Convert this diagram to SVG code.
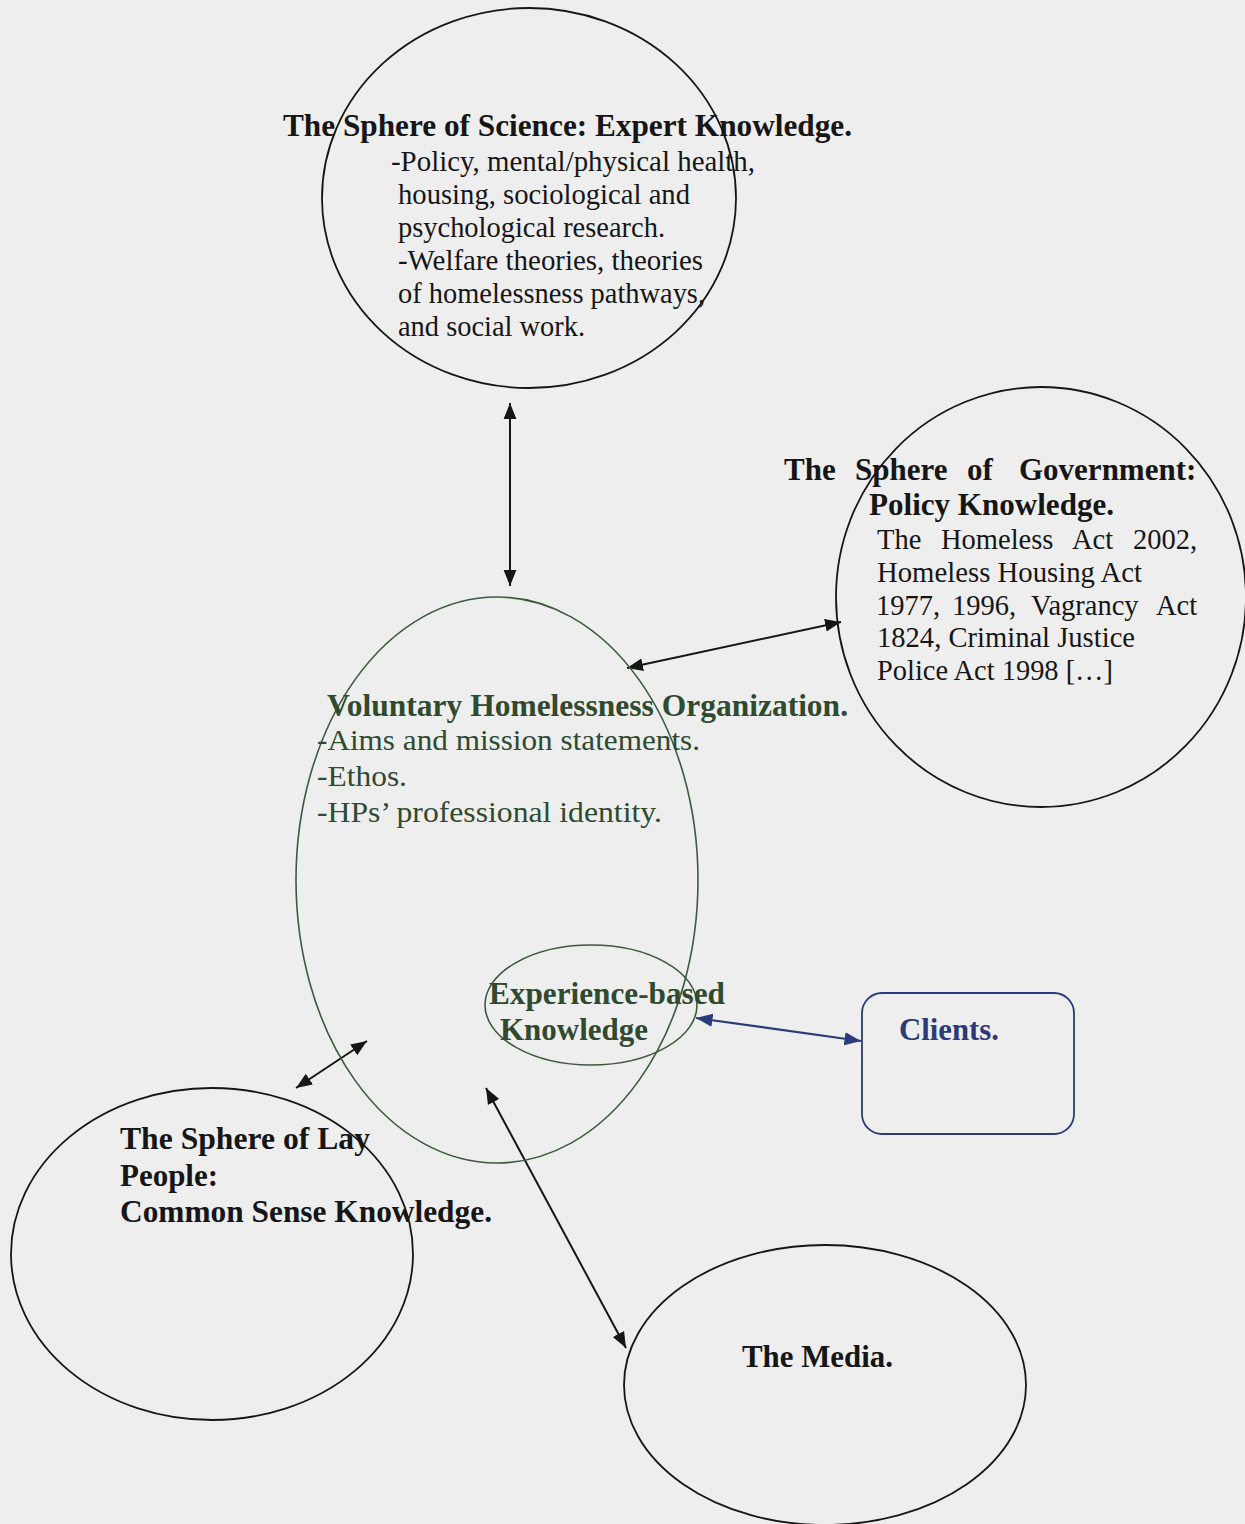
<svg xmlns="http://www.w3.org/2000/svg" width="1245" height="1524" viewBox="0 0 1245 1524">
<style>
.bg{fill:#eeeeee}
.sh{fill:none;stroke:#161616;stroke-width:1.8}
.gsh{fill:none;stroke:#3d5a3d;stroke-width:1.6}
.bsh{fill:none;stroke:#2b3a7a;stroke-width:1.8}
.t{font-family:"Liberation Serif","Times New Roman",Times,serif;font-size:28.5px;fill:#161616}
.b{font-family:"Liberation Serif","Times New Roman",Times,serif;font-size:31px;font-weight:bold;fill:#161616}
.g{fill:#2f4a2f}
.bl{fill:#2b3a7a}
.ar{stroke:#161616;stroke-width:2;fill:none}
.arb{stroke:#2b3a7a;stroke-width:2.2;fill:none}
</style>
<defs>
<marker id="ah" viewBox="0 0 10 10" refX="10" refY="5" markerWidth="8" markerHeight="8" orient="auto-start-reverse" markerUnits="strokeWidth">
<path d="M0,1 L10,5 L0,9 z" fill="#161616"/>
</marker>
<marker id="ahb" viewBox="0 0 10 10" refX="10" refY="5" markerWidth="7.5" markerHeight="7.5" orient="auto-start-reverse" markerUnits="strokeWidth">
<path d="M0,1 L10,5 L0,9 z" fill="#2b3a7a"/>
</marker>
</defs>
<rect class="bg" x="0" y="0" width="1245" height="1524"/>

<g id="connectors">
<line class="ar" x1="510" y1="403" x2="510" y2="586" marker-start="url(#ah)" marker-end="url(#ah)"/>
<line class="ar" x1="627" y1="668" x2="841" y2="622" marker-start="url(#ah)" marker-end="url(#ah)"/>
<line class="ar" x1="296" y1="1088" x2="367" y2="1041" marker-start="url(#ah)" marker-end="url(#ah)"/>
<line class="ar" x1="486" y1="1088" x2="626" y2="1348" marker-start="url(#ah)" marker-end="url(#ah)"/>
<line class="arb" x1="696" y1="1018" x2="861" y2="1041" marker-start="url(#ahb)" marker-end="url(#ahb)"/>
</g>

<g id="science">
<ellipse class="sh" cx="529" cy="198" rx="207" ry="190"/>
<text class="b" x="283" y="136" textLength="569" lengthAdjust="spacingAndGlyphs">The Sphere of Science: Expert Knowledge.</text>
<text class="t" x="391" y="171" textLength="364" lengthAdjust="spacingAndGlyphs">-Policy, mental/physical health,</text>
<text class="t" x="398" y="204" textLength="292" lengthAdjust="spacingAndGlyphs">housing, sociological and</text>
<text class="t" x="398" y="237" textLength="267" lengthAdjust="spacingAndGlyphs">psychological research.</text>
<text class="t" x="398" y="270" textLength="305" lengthAdjust="spacingAndGlyphs">-Welfare theories, theories</text>
<text class="t" x="398" y="303" textLength="307" lengthAdjust="spacingAndGlyphs">of homelessness pathways,</text>
<text class="t" x="398" y="336" textLength="187" lengthAdjust="spacingAndGlyphs">and social work.</text>
</g>

<g id="government">
<ellipse class="sh" cx="1041" cy="597" rx="205" ry="210"/>
<text class="b" y="480"><tspan x="784">The</tspan><tspan x="855">Sphere</tspan><tspan x="967">of</tspan><tspan x="1019">Government:</tspan></text>
<text class="b" x="869" y="515" textLength="245" lengthAdjust="spacingAndGlyphs">Policy Knowledge.</text>
<text class="t" y="549"><tspan x="877">The</tspan><tspan x="941">Homeless</tspan><tspan x="1072">Act</tspan><tspan x="1133">2002,</tspan></text>
<text class="t" x="877" y="582" textLength="265" lengthAdjust="spacingAndGlyphs">Homeless Housing Act</text>
<text class="t" y="615"><tspan x="876">1977,</tspan><tspan x="952">1996,</tspan><tspan x="1031">Vagrancy</tspan><tspan x="1156">Act</tspan></text>
<text class="t" x="877" y="647" textLength="258" lengthAdjust="spacingAndGlyphs">1824, Criminal Justice</text>
<text class="t" x="877" y="680" textLength="236" lengthAdjust="spacingAndGlyphs">Police Act 1998 […]</text>
</g>

<g id="voluntary">
<ellipse class="gsh" cx="497" cy="880" rx="201" ry="283"/>
<text class="b g" x="327" y="716" textLength="521" lengthAdjust="spacingAndGlyphs">Voluntary Homelessness Organization.</text>
<text class="t g" x="317" y="750" textLength="383" lengthAdjust="spacingAndGlyphs">-Aims and mission statements.</text>
<text class="t g" x="317" y="786" textLength="90" lengthAdjust="spacingAndGlyphs">-Ethos.</text>
<text class="t g" x="317" y="822" textLength="345" lengthAdjust="spacingAndGlyphs">-HPs’ professional identity.</text>
</g>

<g id="experience">
<ellipse class="gsh" cx="591" cy="1005" rx="106" ry="60"/>
<text class="b g" x="489" y="1004" textLength="236" lengthAdjust="spacingAndGlyphs">Experience-based</text>
<text class="b g" x="500" y="1040" textLength="148" lengthAdjust="spacingAndGlyphs">Knowledge</text>
</g>

<g id="clients">
<rect class="bsh" x="862" y="993" width="212" height="141" rx="20" ry="20"/>
<text class="b bl" x="899" y="1040" textLength="100" lengthAdjust="spacingAndGlyphs">Clients.</text>
</g>

<g id="lay">
<ellipse class="sh" cx="212" cy="1254" rx="201" ry="166"/>
<text class="b" x="120" y="1149" textLength="250" lengthAdjust="spacingAndGlyphs">The Sphere of Lay</text>
<text class="b" x="120" y="1186" textLength="98" lengthAdjust="spacingAndGlyphs">People:</text>
<text class="b" x="120" y="1222" textLength="372" lengthAdjust="spacingAndGlyphs">Common Sense Knowledge.</text>
</g>

<g id="media">
<ellipse class="sh" cx="825" cy="1385" rx="201" ry="140"/>
<text class="b" x="742" y="1367" textLength="151" lengthAdjust="spacingAndGlyphs">The Media.</text>
</g>
</svg>
